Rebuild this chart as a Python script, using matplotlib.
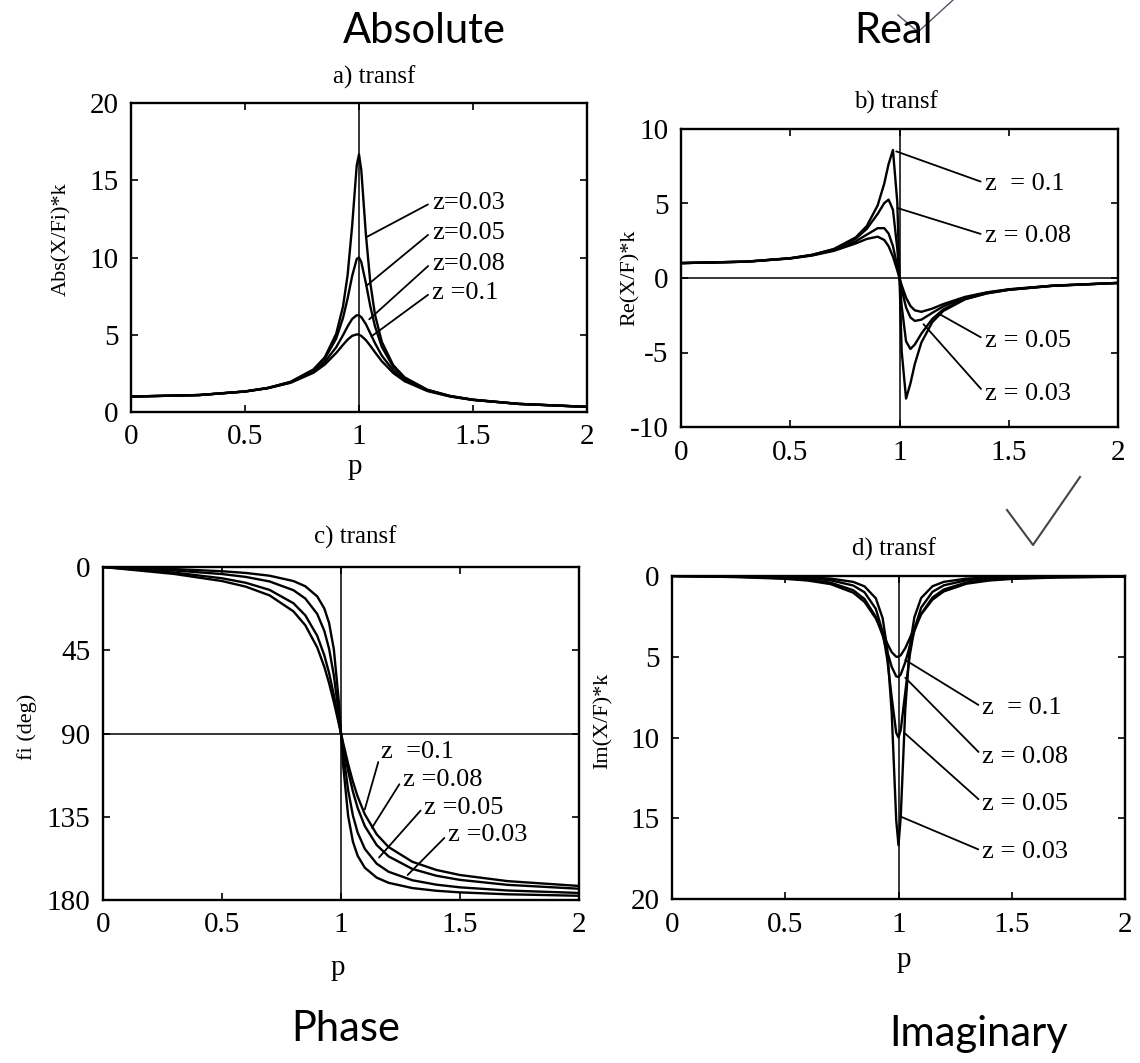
import matplotlib
matplotlib.use("Agg")
import matplotlib.pyplot as plt
from matplotlib.lines import Line2D

plt.rcParams['font.family'] = ['Liberation Serif', 'DejaVu Serif']
plt.rcParams['axes.unicode_minus'] = False

# frequency ratio samples (shared by all curves)
p = [0, 0.3, 0.5, 0.6, 0.7, 0.8, 0.85, 0.9, 0.93, 0.95, 0.97, 0.99, 1.0,
     1.01, 1.03, 1.05, 1.07, 1.1, 1.15, 1.2, 1.3, 1.4, 1.5, 1.7, 2.0]

# a) absolute value
abs_003 = [1.00, 1.099, 1.332, 1.560, 1.954, 2.753, 3.544, 5.063, 6.841, 8.854, 12.06, 15.96, 16.67,
           15.66, 11.53, 8.312, 6.310, 4.543, 3.032, 2.243, 1.440, 1.038, 0.798, 0.528, 0.333]
abs_005 = [1.00, 1.098, 1.330, 1.556, 1.943, 2.712, 3.446, 4.757, 6.097, 7.346, 8.804, 9.903, 10.0,
           9.711, 8.357, 6.815, 5.552, 4.218, 2.921, 2.193, 1.424, 1.031, 0.794, 0.527, 0.333]
abs_008 = [1.00, 1.097, 1.326, 1.545, 1.915, 2.617, 3.236, 4.195, 4.976, 5.538, 6.022, 6.264, 6.25,
           6.141, 5.692, 5.081, 4.459, 3.650, 2.693, 2.083, 1.388, 1.014, 0.786, 0.524, 0.331]
abs_010 = [1.00, 1.097, 1.322, 1.536, 1.891, 2.538, 3.073, 3.821, 4.350, 4.683, 4.931, 5.025, 5.0,
           4.926, 4.655, 4.279, 3.869, 3.288, 2.525, 1.995, 1.356, 1.000, 0.778, 0.521, 0.330]

# b) real part
re_003 = [1.0, 1.099, 1.331, 1.558, 1.948, 2.729, 3.486, 4.870, 6.323, 7.644, 8.590, 5.071, 0.0,
          -4.931, -8.090, -7.081, -5.769, -4.334, -2.965, -2.213, -1.431, -1.034, -0.796, -0.528, -0.333]
re_005 = [1.0, 1.098, 1.327, 1.549, 1.925, 2.647, 3.294, 4.299, 5.022, 5.261, 4.581, 1.952, 0.0,
          -1.895, -4.253, -4.761, -4.466, -3.737, -2.751, -2.115, -1.400, -1.020, -0.789, -0.525, -0.332]
re_008 = [1.0, 1.096, 1.318, 1.528, 1.871, 2.466, 2.906, 3.343, 3.345, 2.990, 2.143, 0.781, 0.0,
          -0.758, -1.973, -2.647, -2.880, -2.797, -2.339, -1.909, -1.329, -0.988, -0.772, -0.518, -0.330]
re_010 = [1.0, 1.094, 1.310, 1.509, 1.823, 2.320, 2.620, 2.774, 2.556, 2.138, 1.437, 0.503, 0.0,
          -0.488, -1.320, -1.877, -2.169, -2.270, -2.055, -1.752, -1.269, -0.960, -0.756, -0.513, -0.328]

# c) phase angle in degrees
phase_003 = [0.0, 1.13, 2.29, 3.22, 4.71, 7.59, 10.41, 15.87, 22.44, 30.31, 44.56, 71.48, 90.0,
             108.35, 134.58, 148.42, 156.10, 162.55, 167.92, 170.71, 173.55, 175.00, 175.88, 176.91, 177.71]
phase_005 = [0.0, 1.89, 3.81, 5.36, 7.82, 12.53, 17.03, 25.35, 34.54, 44.26, 58.64, 78.63, 90.0,
             101.26, 120.59, 134.31, 143.56, 152.35, 160.37, 164.74, 169.33, 171.70, 173.16, 174.86, 176.19]
phase_008 = [0.0, 3.02, 6.09, 8.53, 12.39, 19.57, 26.11, 37.16, 47.76, 57.32, 69.16, 82.84, 90.0,
             97.09, 110.28, 121.39, 130.24, 140.03, 150.29, 156.43, 163.22, 166.87, 169.13, 171.81, 173.91]
phase_010 = [0.0, 3.77, 7.59, 10.62, 15.35, 23.96, 31.49, 43.45, 53.99, 62.84, 73.06, 84.26, 90.0,
             95.68, 106.47, 116.02, 124.10, 133.67, 144.50, 151.39, 159.35, 163.74, 166.50, 169.80, 172.41]

# d) imaginary part (plotted downward)
im_003 = [0.0, 0.022, 0.053, 0.088, 0.160, 0.364, 0.641, 1.384, 2.612, 4.469, 8.459, 15.14, 16.67,
          14.87, 8.209, 4.352, 2.556, 1.362, 0.634, 0.362, 0.162, 0.091, 0.057, 0.029, 0.013]
im_005 = [0.0, 0.036, 0.089, 0.145, 0.264, 0.588, 1.009, 2.036, 3.457, 5.127, 7.518, 9.709, 10.0,
          9.524, 7.194, 4.877, 3.298, 1.957, 0.981, 0.577, 0.264, 0.149, 0.095, 0.047, 0.022]
im_008 = [0.0, 0.058, 0.141, 0.229, 0.411, 0.877, 1.424, 2.534, 3.684, 4.661, 5.627, 6.215, 6.25,
          6.094, 5.339, 4.338, 3.403, 2.344, 1.335, 0.833, 0.401, 0.231, 0.148, 0.075, 0.035]
im_010 = [0.0, 0.072, 0.175, 0.283, 0.501, 1.031, 1.605, 2.628, 3.520, 4.166, 4.717, 5.0, 5.0,
          4.902, 4.464, 3.846, 3.204, 2.378, 1.466, 0.955, 0.478, 0.280, 0.182, 0.092, 0.044]

x_ticks = [0, 0.5, 1, 1.5, 2]
x_ticklabels = ["0", "0.5", "1", "1.5", "2"]

W, H = 1140, 1063
fig = plt.figure(figsize=(W / 100, H / 100), dpi=100)


def box(left, top, right, bottom):
    return [left / W, 1 - bottom / H, (right - left) / W, (bottom - top) / H]


def style(ax, yticks, ylim):
    ax.set_xlim(0, 2)
    ax.set_ylim(*ylim)
    ax.set_xticks(x_ticks)
    ax.set_xticklabels(x_ticklabels)
    ax.set_yticks(yticks)
    ax.tick_params(direction="in", top=True, right=True, length=5, width=1.2,
                   labelsize=21, pad=9)
    for s in ax.spines.values():
        s.set_linewidth(1.7)


def curves(ax, series):
    for ys in series:
        ax.plot(p, ys, color="black", lw=1.7)


def label(ax, text, xy, xytext):
    ax.annotate(text, xy=xy, xytext=xytext, fontsize=19, ha="left", va="center",
                arrowprops=dict(arrowstyle="-", color="black", lw=1.3,
                                shrinkA=1, shrinkB=0, relpos=(0, 0.55)))


# a) absolute
ax = fig.add_axes(box(131, 103, 587, 412))
style(ax, [0, 5, 10, 15, 20], (0, 20))
curves(ax, [abs_003, abs_005, abs_008, abs_010])
ax.axvline(1, color="black", lw=1.1)
ax.set_ylabel("Abs(X/Fi)*k", fontsize=16)
ax.yaxis.set_label_coords(-0.13, 0.56)
ax.set_xlabel("p", fontsize=21)
ax.xaxis.set_label_coords(0.49, -0.135)
label(ax, "z=0.03", (1.03, 11.3), (1.32, 13.5))
label(ax, "z=0.05", (1.035, 8.2), (1.32, 11.6))
label(ax, "z=0.08", (1.045, 6.0), (1.32, 9.6))
label(ax, "z =0.1", (1.055, 4.9), (1.32, 7.7))
fig.text(374 / W, 1 - 77 / H, "a) transf", fontsize=18, ha="center", va="center")

# b) real
ax = fig.add_axes(box(681, 129, 1118, 427))
style(ax, [-10, -5, 0, 5, 10], (-10, 10))
curves(ax, [re_003, re_005, re_008, re_010])
ax.axvline(1, color="black", lw=1.1)
ax.axhline(0, color="black", lw=1.1)
ax.set_ylabel("Re(X/F)*k", fontsize=16)
ax.yaxis.set_label_coords(-0.095, 0.5)
label(ax, "z  = 0.1", (0.985, 8.5), (1.39, 6.3))
label(ax, "z = 0.08", (0.99, 4.7), (1.39, 2.8))
label(ax, "z = 0.05", (1.18, -2.4), (1.39, -4.2))
label(ax, "z = 0.03", (1.11, -3.1), (1.39, -7.8))
fig.text(896 / W, 1 - 102 / H, "b) transf", fontsize=18, ha="center", va="center")

# c) phase
ax = fig.add_axes(box(103, 567, 579, 900))
style(ax, [0, 45, 90, 135, 180], (180, 0))
curves(ax, [phase_003, phase_005, phase_008, phase_010])
ax.axvline(1, color="black", lw=1.1)
ax.axhline(90, color="black", lw=1.1)
ax.set_ylabel("fi (deg)", fontsize=16)
ax.yaxis.set_label_coords(-0.139, 0.52)
ax.set_xlabel("p", fontsize=21)
ax.xaxis.set_label_coords(0.494, -0.165)
label(ax, "z  =0.1", (1.10, 131), (1.17, 100))
label(ax, "z =0.08", (1.13, 141), (1.26, 115))
label(ax, "z =0.05", (1.16, 157), (1.35, 130))
label(ax, "z =0.03", (1.28, 166.5), (1.45, 145))
fig.text(355 / W, 1 - 537 / H, "c) transf", fontsize=18, ha="center", va="center")

# d) imaginary
ax = fig.add_axes(box(672, 576, 1125, 899))
style(ax, [0, 5, 10, 15, 20], (20, 0))
curves(ax, [im_003, im_005, im_008, im_010])
ax.axvline(1, color="black", lw=1.1)
ax.set_ylabel("Im(X/F)*k", fontsize=16)
ax.yaxis.set_label_coords(-0.13, 0.55)
ax.set_xlabel("p", fontsize=21)
ax.xaxis.set_label_coords(0.512, -0.149)
label(ax, "z  = 0.1", (1.03, 5.2), (1.37, 8.2))
label(ax, "z = 0.08", (1.03, 6.3), (1.37, 11.2))
label(ax, "z = 0.05", (1.025, 9.7), (1.37, 14.1))
label(ax, "z = 0.03", (1.01, 14.9), (1.37, 17.1))
fig.text(894 / W, 1 - 549 / H, "d) transf", fontsize=18, ha="center", va="center")

# handwritten captions
for txt, x, y in [("Absolute", 424, 43), ("Real", 893, 43),
                  ("Phase", 346, 1041), ("Imaginary", 979, 1046)]:
    fig.text(x / W, 1 - y / H, txt, fontfamily="Lato", fontsize=30,
             ha="center", va="baseline")

# pen marks on the scan
fig.add_artist(Line2D([1007 / W, 1033 / W, 1080 / W], [1 - 510 / H, 1 - 545 / H, 1 - 477 / H],
                      transform=fig.transFigure, color="#444444", lw=1.5))
fig.add_artist(Line2D([898 / W, 918 / W, 953 / W], [1 - 15 / H, 1 - 32 / H, 1 - 0 / H],
                      transform=fig.transFigure, color="#555566", lw=1.0))

fig.savefig("out.png", dpi=100)
